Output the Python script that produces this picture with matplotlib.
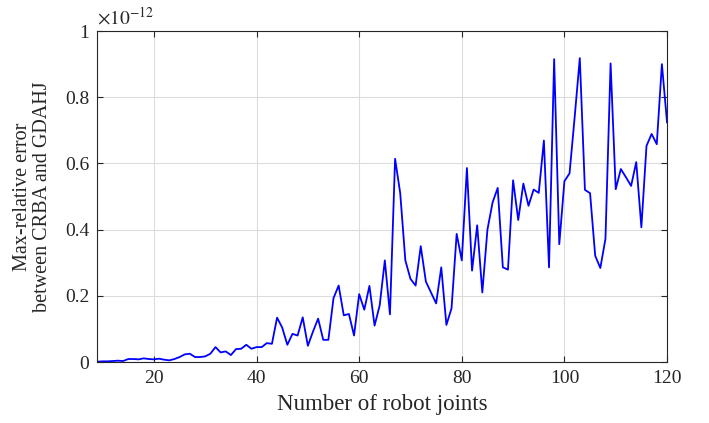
import matplotlib
matplotlib.use("Agg")
import matplotlib.pyplot as plt
import numpy as np

plt.rcParams['font.family'] = ['Liberation Serif', 'DejaVu Serif']
plt.rcParams['mathtext.fontset'] = 'stix'

joints = list(range(9, 121))
# max relative error, in units of 1e-12
errors = [
    0.001, 0.002, 0.002, 0.003, 0.004, 0.003, 0.009, 0.009, 0.008, 0.011,
    0.009, 0.008, 0.010, 0.007, 0.005, 0.009, 0.015, 0.023, 0.025, 0.015,
    0.015, 0.017, 0.025, 0.045, 0.029, 0.032, 0.021, 0.039, 0.040, 0.052,
    0.040, 0.045, 0.045, 0.057, 0.055, 0.134, 0.104, 0.052, 0.085, 0.080,
    0.135, 0.049, 0.092, 0.131, 0.067, 0.067, 0.193, 0.231, 0.141, 0.145,
    0.080, 0.205, 0.158, 0.230, 0.110, 0.171, 0.307, 0.144, 0.614, 0.510,
    0.307, 0.251, 0.231, 0.350, 0.243, 0.210, 0.177, 0.286, 0.112, 0.162,
    0.387, 0.307, 0.586, 0.276, 0.413, 0.210, 0.400, 0.482, 0.526, 0.286,
    0.279, 0.549, 0.429, 0.539, 0.472, 0.521, 0.511, 0.669, 0.286, 0.915,
    0.356, 0.546, 0.570, 0.740, 0.918, 0.520, 0.510, 0.321, 0.284, 0.372,
    0.902, 0.522, 0.583, 0.558, 0.532, 0.604, 0.407, 0.653, 0.689, 0.658,
    0.900, 0.724,
]
xticks = [20, 40, 60, 80, 100, 120]
yticks = [0, 0.2, 0.4, 0.6, 0.8, 1]
ytick_labels = ['0', '0.2', '0.4', '0.6', '0.8', '1']

fig = plt.figure(figsize=(7.09, 4.23), dpi=100)
ax = fig.add_axes([0.1375, 0.1442, 0.8033, 0.7825])
ax.plot(joints, errors, color='#0000ff', linewidth=1.3)
ax.set_xlim(9, 120)
ax.set_ylim(0, 1)
ax.set_xticks(xticks)
ax.set_yticks(yticks)
ax.set_yticklabels(ytick_labels)
ax.grid(True, color='#dcdcdc', linewidth=0.8)
ax.set_axisbelow(True)
ax.tick_params(direction='in', top=True, right=True, length=4, width=0.8,
               labelsize=14, colors='#262626', pad=6)
for s in ax.spines.values():
    s.set_color('#262626')
    s.set_linewidth(0.8)
ax.set_xlabel('Number of robot joints', fontsize=16.5, color='#262626', labelpad=5)
ax.set_ylabel('Max-relative error\nbetween CRBA and GDAHJ', fontsize=14.5,
              color='#262626', labelpad=9, linespacing=1.1)
ax.text(0.0, 1.01, r'$\times10^{-12}$', transform=ax.transAxes, fontsize=14,
        color='#262626', ha='left', va='bottom')
fig.savefig('out.png', dpi=100)
